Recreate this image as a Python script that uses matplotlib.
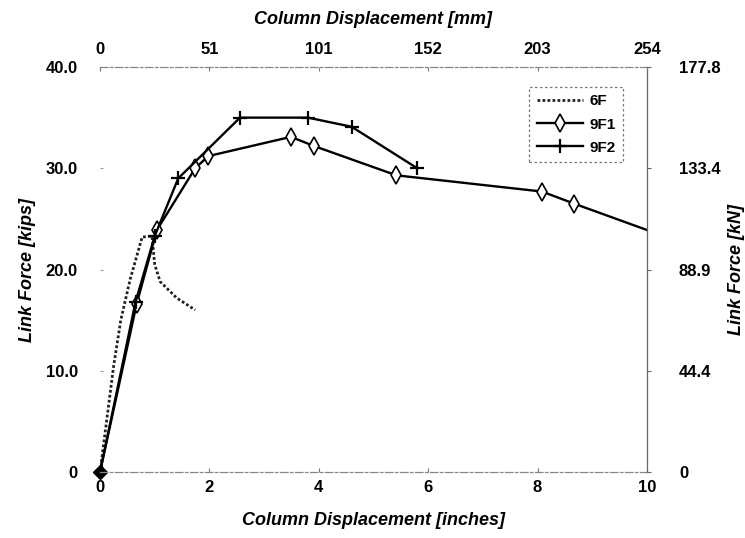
import numpy as np
import matplotlib.pyplot as plt

plt.rcParams['font.family'] = ['Liberation Sans', 'DejaVu Sans']

# Link force (kips) vs column displacement (inches)
x_6f = [0, 0.12, 0.25, 0.38, 0.55, 0.77, 0.95, 1.0, 1.1, 1.4, 1.74]
y_6f = [0, 5.0, 10.5, 15.0, 19.0, 23.2, 23.3, 20.5, 18.8, 17.2, 16.0]

x_9f1 = [0, 0.67, 1.04, 1.74, 1.98, 3.49, 3.91, 5.42, 8.08, 8.67, 10.0]
y_9f1 = [0, 16.6, 23.9, 30.0, 31.2, 33.1, 32.2, 29.3, 27.7, 26.5, 23.9]

x_9f2 = [0, 0.65, 1.0, 1.43, 2.56, 3.8, 4.6, 5.8]
y_9f2 = [0, 16.8, 23.3, 29.0, 35.0, 35.0, 34.1, 30.0]

in_ticks = [0, 2, 4, 6, 8, 10]
mm_labels = ['0', '51', '101', '152', '203', '254']
kip_ticks = [0, 10, 20, 30, 40]
kip_labels = ['0', '10.0', '20.0', '30.0', '40.0']
kn_labels = ['0', '44.4', '88.9', '133.4', '177.8']

tick_fs = 12
label_fs = 13

fig = plt.figure(figsize=(7.45, 5.38), dpi=100)
ax = fig.add_axes([100/745, 1 - 472/538, 547/745, 405/538])

ax.plot(x_6f, y_6f, color='#222222', linestyle=(0, (1, 0.8)), lw=2.0, label='6F')
ax.plot(x_9f1, y_9f1, color='black', lw=1.7, marker='d', ms=9, mfc='white',
        mec='black', mew=1.2, markevery=list(range(len(x_9f1) - 1)), label='9F1')
ax.plot(x_9f2, y_9f2, color='black', lw=1.7, marker='+', ms=10, mew=1.6, label='9F2')
ax.plot([0], [0], marker='D', ms=7, color='black', clip_on=False)

ax.set_xlim(0, 10)
ax.set_ylim(0, 40)
ax.set_xticks(in_ticks)
ax.set_xticklabels([str(t) for t in in_ticks], fontweight='bold', fontsize=tick_fs)
ax.set_yticks(kip_ticks)
ax.set_yticklabels(kip_labels, fontweight='bold', fontsize=tick_fs)
ax.tick_params(axis='x', direction='in', length=3, color='#777777', pad=6)
ax.tick_params(axis='y', direction='in', length=2, color='#999999', pad=16)

for side in ['top', 'bottom']:
    ax.spines[side].set_linestyle((0, (6, 2, 2, 2)))
    ax.spines[side].set_color('#888888')
    ax.spines[side].set_linewidth(0.9)
ax.spines['left'].set_visible(False)
ax.spines['right'].set_color('#666666')
ax.spines['right'].set_linewidth(0.9)

ax.set_xlabel('Column Displacement [inches]', fontsize=label_fs, fontweight='bold',
              style='italic', labelpad=12)
ax.set_ylabel('Link Force [kips]', fontsize=label_fs, fontweight='bold',
              style='italic', labelpad=7)

# mm scale on top
ax_top = ax.twiny()
ax_top.set_xlim(ax.get_xlim())
ax_top.set_xticks(in_ticks)
ax_top.set_xticklabels(mm_labels, fontweight='bold', fontsize=tick_fs)
ax_top.tick_params(axis='x', direction='in', length=3, color='#777777', pad=7)
ax_top.set_xlabel('Column Displacement [mm]', fontsize=label_fs, fontweight='bold',
                  style='italic', labelpad=13)
for s in ax_top.spines.values():
    s.set_visible(False)

# kN scale on right
ax_r = ax.twinx()
ax_r.set_ylim(ax.get_ylim())
ax_r.set_yticks(kip_ticks)
ax_r.set_yticklabels(kn_labels, fontweight='bold', fontsize=tick_fs)
ax_r.tick_params(axis='y', direction='out', length=3, color='#666666', pad=20)
ax_r.set_ylabel('Link Force [kN]', fontsize=label_fs, fontweight='bold',
                style='italic', labelpad=5)
for s in ax_r.spines.values():
    s.set_visible(False)

leg = ax.legend(loc='upper right', bbox_to_anchor=(0.97, 0.97), fontsize=11,
                frameon=True, fancybox=False, handlelength=3.0,
                borderpad=0.5, labelspacing=0.6, handletextpad=0.4)
leg.get_frame().set_edgecolor('#555555')
leg.get_frame().set_linestyle((0, (2, 2)))
leg.get_frame().set_linewidth(0.9)
for t in leg.get_texts():
    t.set_fontweight('bold')

fig.savefig('out.png', dpi=100)
